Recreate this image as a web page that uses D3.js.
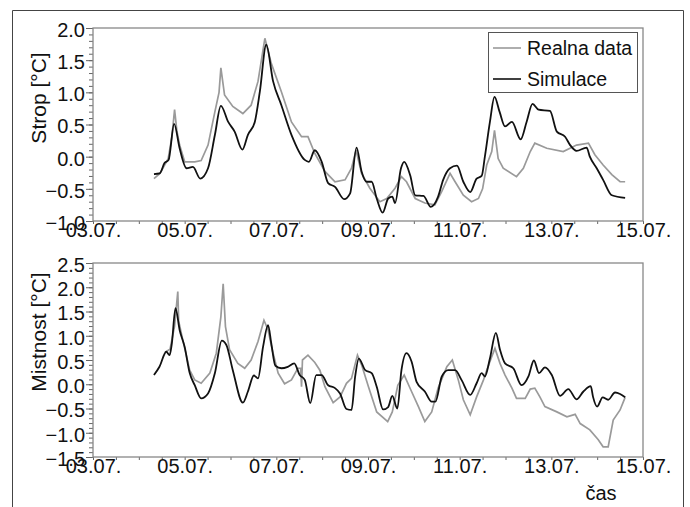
<!DOCTYPE html>
<html>
<head>
<meta charset="utf-8">
<script src="https://cdn.jsdelivr.net/npm/d3@7"></script>
<style>
  body { margin: 0; background: #fff; }
  svg text { font-family: "Liberation Sans", Arial, sans-serif; fill: #111; }
</style>
</head>
<body>
<div id="chart"></div>
<script>
// time in days of July, value in °C
var stropReal = [[4.33,-0.34],[4.46,-0.26],[4.64,-0.03],[4.72,0.3],[4.78,0.73],[4.83,0.4],[4.89,0.18],[5.0,-0.08],[5.22,-0.08],[5.36,-0.06],[5.51,0.18],[5.66,0.70],[5.75,1.0],[5.79,1.38],[5.87,0.96],[6.05,0.78],[6.27,0.67],[6.45,0.80],[6.60,1.17],[6.75,1.84],[6.89,1.45],[7.11,1.01],[7.33,0.54],[7.55,0.31],[7.69,0.31],[7.84,0.05],[8.06,-0.23],[8.28,-0.39],[8.50,-0.36],[8.64,-0.18],[8.74,0.10],[8.86,-0.26],[9.04,-0.49],[9.26,-0.70],[9.41,-0.65],[9.59,-0.49],[9.73,-0.31],[9.84,-0.39],[10.03,-0.65],[10.24,-0.72],[10.46,-0.75],[10.61,-0.54],[10.79,-0.26],[10.90,-0.39],[11.08,-0.60],[11.26,-0.70],[11.41,-0.65],[11.50,-0.50],[11.59,-0.13],[11.70,0.08],[11.76,0.41],[11.84,-0.03],[11.95,-0.18],[12.24,-0.31],[12.39,-0.18],[12.54,0.08],[12.64,0.21],[12.90,0.13],[13.26,0.08],[13.55,0.18],[13.81,0.21],[13.95,0.03],[14.13,-0.13],[14.32,-0.28],[14.50,-0.39],[14.61,-0.39]];
var stropSim = [[4.33,-0.27],[4.455,-0.26],[4.56,-0.10],[4.65,-0.05],[4.77,0.51],[4.89,0.13],[5.04,-0.18],[5.18,-0.16],[5.34,-0.34],[5.51,-0.18],[5.66,0.34],[5.79,0.79],[5.95,0.54],[6.09,0.39],[6.26,0.11],[6.38,0.34],[6.53,0.54],[6.64,1.01],[6.78,1.74],[6.93,1.17],[7.11,0.80],[7.33,0.34],[7.62,-0.05],[7.71,-0.08],[7.84,0.10],[7.99,-0.08],[8.13,-0.41],[8.28,-0.47],[8.48,-0.66],[8.61,-0.57],[8.75,0.14],[8.86,-0.23],[8.97,-0.39],[9.08,-0.39],[9.19,-0.65],[9.32,-0.87],[9.44,-0.65],[9.53,-0.62],[9.59,-0.72],[9.72,-0.18],[9.79,-0.08],[9.92,-0.29],[10.03,-0.60],[10.21,-0.61],[10.37,-0.78],[10.53,-0.62],[10.64,-0.36],[10.79,-0.18],[10.94,-0.14],[11.08,-0.39],[11.23,-0.55],[11.37,-0.34],[11.48,-0.30],[11.55,0.0],[11.66,0.54],[11.76,0.93],[11.87,0.70],[11.99,0.47],[12.14,0.54],[12.33,0.27],[12.46,0.54],[12.59,0.82],[12.72,0.73],[12.97,0.71],[13.12,0.39],[13.30,0.31],[13.41,0.18],[13.55,0.09],[13.77,0.14],[13.84,0.00],[13.99,-0.18],[14.13,-0.36],[14.32,-0.60],[14.61,-0.64]];
var mistReal = [[4.57,0.66],[4.68,0.72],[4.78,1.2],[4.85,1.91],[4.87,1.3],[4.95,0.95],[5.11,0.29],[5.22,0.09],[5.36,0.02],[5.55,0.23],[5.69,0.64],[5.79,1.39],[5.84,2.07],[5.89,1.19],[5.98,0.71],[6.16,0.43],[6.31,0.33],[6.45,0.50],[6.60,0.88],[6.73,1.32],[6.82,1.12],[6.91,0.71],[7.04,0.23],[7.18,0.01],[7.33,0.09],[7.47,0.33],[7.53,0.33],[7.55,-0.05],[7.57,0.50],[7.69,0.60],[7.84,0.45],[7.95,0.29],[8.06,-0.05],[8.24,-0.38],[8.39,-0.26],[8.53,0.02],[8.64,0.12],[8.77,0.60],[8.86,0.40],[9.01,-0.05],[9.19,-0.57],[9.43,-0.77],[9.53,-0.57],[9.65,-0.02],[9.79,0.19],[9.95,-0.15],[10.10,-0.46],[10.24,-0.77],[10.39,-0.57],[10.53,-0.08],[10.72,0.36],[10.84,0.50],[10.97,0.09],[11.08,-0.32],[11.23,-0.63],[11.37,-0.26],[11.52,0.09],[11.59,0.29],[11.70,0.57],[11.77,0.74],[11.88,0.43],[11.99,0.19],[12.14,-0.08],[12.24,-0.29],[12.43,-0.29],[12.54,-0.10],[12.64,-0.08],[12.75,-0.26],[12.86,-0.46],[13.12,-0.57],[13.34,-0.67],[13.52,-0.62],[13.63,-0.81],[13.84,-0.94],[14.02,-1.14],[14.13,-1.29],[14.24,-1.29],[14.35,-0.74],[14.50,-0.53],[14.61,-0.27]];
var mistSim = [[4.33,0.19],[4.45,0.36],[4.60,0.67],[4.67,0.60],[4.72,0.84],[4.80,1.57],[4.89,1.12],[5.0,0.77],[5.11,0.23],[5.22,-0.02],[5.36,-0.29],[5.51,-0.19],[5.66,0.23],[5.81,0.90],[5.91,0.81],[6.05,0.29],[6.27,-0.38],[6.38,-0.15],[6.51,0.18],[6.60,0.12],[6.71,0.77],[6.82,1.22],[6.89,0.84],[6.98,0.38],[7.11,0.33],[7.25,0.36],[7.39,0.43],[7.51,0.19],[7.62,0.09],[7.74,-0.39],[7.87,0.19],[7.99,0.19],[8.13,-0.02],[8.28,-0.08],[8.39,-0.19],[8.53,-0.51],[8.64,-0.53],[8.72,0.16],[8.80,0.53],[8.94,0.29],[9.08,0.23],[9.19,-0.05],[9.33,-0.52],[9.44,-0.47],[9.53,-0.24],[9.64,-0.50],[9.73,0.29],[9.84,0.64],[9.95,0.47],[10.06,0.05],[10.24,-0.15],[10.39,-0.36],[10.47,-0.36],[10.61,0.16],[10.75,0.29],[10.90,0.29],[11.04,0.09],[11.23,-0.22],[11.37,0.02],[11.48,0.23],[11.55,0.16],[11.66,0.53],[11.79,1.06],[11.88,0.71],[11.99,0.43],[12.17,0.33],[12.35,-0.02],[12.50,0.16],[12.62,0.49],[12.73,0.23],[12.86,0.35],[13.01,0.19],[13.19,-0.24],[13.37,-0.10],[13.55,-0.31],[13.70,-0.15],[13.86,-0.04],[13.91,-0.26],[14.0,-0.46],[14.12,-0.27],[14.24,-0.32],[14.39,-0.17],[14.50,-0.20],[14.61,-0.27]];

var dayLabels = [3, 5, 7, 9, 11, 13, 15];
var seriesNames = ["Realna data", "Simulace"];
var titles = ["Strop [°C]", "Mistnost [°C]"];

var w = 690, h = 507;
var svg = d3.select("#chart").append("svg")
  .attr("width", w).attr("height", h);

// outer frame (open at the bottom)
svg.append("path")
  .attr("d", "M12.5,507V10.5H683.5V507")
  .attr("fill", "none").attr("stroke", "#444").attr("stroke-width", 1);

var x = d3.scaleLinear().domain([3, 15]).range([93, 643]);
var fmtDay = function (d) { return (d < 10 ? "0" : "") + d + ".07."; };

function panel(top, bottom, yDomain, real, sim, title, titleY) {
  var y = d3.scaleLinear().domain(yDomain).range([bottom, top]);
  var g = svg.append("g");

  // minor ticks
  g.append("g").attr("transform", "translate(93,0)")
    .call(d3.axisLeft(y).tickValues(d3.range(yDomain[0] * 10, yDomain[1] * 10 + 1).map(function (v) { return v / 10; }))
      .tickSize(4).tickFormat(""))
    .call(function (a) { a.select(".domain").remove(); a.selectAll("line").attr("stroke", "#666"); });
  // major ticks with labels
  g.append("g").attr("transform", "translate(93,0)")
    .call(d3.axisLeft(y).tickValues(d3.range(yDomain[0], yDomain[1] + 0.01, 0.5))
      .tickSize(7).tickPadding(1).tickFormat(d3.format(".1f")))
    .call(function (a) {
      a.select(".domain").remove();
      a.selectAll("line").attr("stroke", "#666");
      a.selectAll("text").attr("font-size", "20px").attr("dy", "0.42em")
        .attr("font-family", "Liberation Sans, Arial, sans-serif").attr("fill", "#111");
    });

  g.append("g").attr("transform", "translate(0," + bottom + ")")
    .call(d3.axisBottom(x).tickValues(d3.range(3, 15.01, 0.5)).tickSize(3)
      .tickFormat(function (d) { return dayLabels.indexOf(d) >= 0 ? fmtDay(d) : ""; }))
    .call(function (a) {
      a.select(".domain").remove();
      a.selectAll("line").attr("stroke", "#666");
      a.selectAll("text").attr("font-size", "20px").attr("y", 2).attr("dy", "0.72em")
        .attr("font-family", "Liberation Sans, Arial, sans-serif").attr("fill", "#111");
    });

  g.append("rect")
    .attr("x", 93).attr("y", top).attr("width", 550).attr("height", bottom - top)
    .attr("fill", "none").attr("stroke", "#888").attr("stroke-width", 1.3);

  var line = d3.line().x(function (d) { return x(d[0]); }).y(function (d) { return y(d[1]); });
  g.append("path").datum(real).attr("d", line)
    .attr("fill", "none").attr("stroke", "#9a9a9a").attr("stroke-width", 1.7);
  g.append("path").datum(sim).attr("d", line.curve(d3.curveMonotoneX))
    .attr("fill", "none").attr("stroke", "#111").attr("stroke-width", 1.8);

  g.append("text").text(title)
    .attr("transform", "translate(46," + titleY + ") rotate(-90)")
    .attr("text-anchor", "middle").attr("font-size", "21px");
}

panel(28, 221, [-1, 2], stropReal, stropSim, titles[0], 98);
panel(263, 457, [-1.5, 2.5], mistReal, mistSim, titles[1], 332);

// legend
var lg = svg.append("g");
lg.append("rect").attr("x", 488.5).attr("y", 32.5).attr("width", 149).attr("height", 60)
  .attr("fill", "#fff").attr("stroke", "#555").attr("stroke-width", 1);
var legendColors = ["#9a9a9a", "#111"];
seriesNames.forEach(function (name, i) {
  var ly = 48 + i * 31;
  lg.append("line").attr("x1", 493).attr("x2", 521).attr("y1", ly).attr("y2", ly)
    .attr("stroke", legendColors[i]).attr("stroke-width", 1.6);
  lg.append("text").text(name).attr("x", 527).attr("y", ly + 7).attr("font-size", "19.5px");
});

svg.append("text").text("čas").attr("x", 601).attr("y", 500)
  .attr("text-anchor", "middle").attr("font-size", "20px");
</script>
</body>
</html>
